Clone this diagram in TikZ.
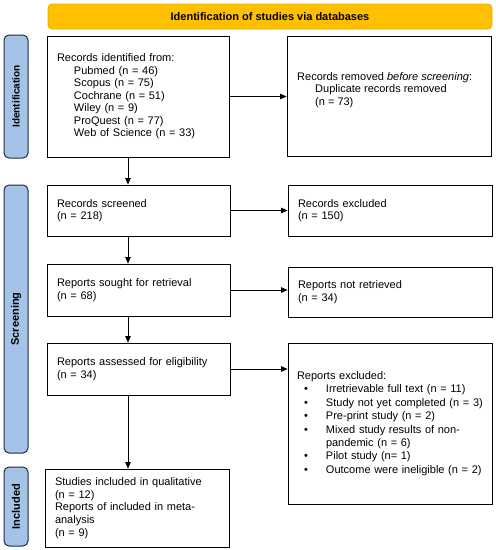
\documentclass[tikz,border=0pt]{standalone}
\usepackage{fontspec}
\setmainfont{Liberation Sans}
\usetikzlibrary{arrows.meta,calc}
\definecolor{gold}{HTML}{FFC000}
\definecolor{goldline}{HTML}{E9AE00}
\definecolor{sideblue}{HTML}{A4C3E6}
\definecolor{sideline}{HTML}{1F2A44}
\tikzset{
  box/.style={draw=black, line width=0.8pt, inner xsep=10pt, inner ysep=0pt, align=left,
    font=\fontsize{11}{12.5}\selectfont},
  txt/.style={inner sep=0pt, align=left, font=\fontsize{11}{12.5}\selectfont},
  side/.style={draw=sideline, fill=sideblue, line width=1pt, rounded corners=5pt, rotate=90,
    minimum height=24pt, inner sep=0pt, font=\bfseries\fontsize{11}{12}\selectfont},
  banner/.style={draw=goldline, fill=gold, line width=0.8pt, rounded corners=4pt,
    font=\bfseries\fontsize{11}{12}\selectfont, minimum width=444pt, minimum height=25pt},
  arr/.style={line width=0.8pt, -{Triangle[length=6.5pt,width=5.5pt]}}
}
\newcommand{\ind}{\hspace*{17pt}}
\newcommand{\bul}{\makebox[29pt][l]{\hspace{7pt}•}}
\begin{document}
\begin{tikzpicture}[x=1pt,y=-1pt]
\useasboundingbox (0,0) rectangle (496,550);
% banner
\node[banner] (banner) at (270,16.5) {Identification of studies via databases};
% side labels
\node[side, minimum width=123pt, font=\bfseries\fontsize{10}{12}\selectfont] (sid) at (16,96.5) {Identification};
\node[side, minimum width=268pt] (sscr) at (16,319) {Screening};
\node[side, minimum width=79pt] (sinc) at (16,506.5) {Included};
% boxes
\node[box, text width=162pt, minimum height=121pt] (id) at (138,96.5)
 {Records identified from:\\
  \ind Pubmed (n = 46)\\
  \ind Scopus (n = 75)\\
  \ind Cochrane (n = 51)\\
  \ind Wiley (n = 9)\\
  \ind ProQuest (n = 77)\\
  \ind Web of Science (n = 33)};
\node[box, text width=184pt, minimum height=120pt] (dup) at (389,96) {};
\node[txt, anchor=west] (duptxt) at (297,90)
 {Records removed \textit{before screening}:\\
  \hspace*{18pt}Duplicate records removed\\
  \hspace*{18pt}(n = 73)};
\node[box, text width=163pt, minimum height=51pt] (scr) at (138.5,210.5)
 {Records screened\\(n = 218)};
\node[box, text width=184pt, minimum height=51pt] (exc) at (390,210.5)
 {Records excluded\\(n = 150)};
\node[box, text width=163pt, minimum height=52pt] (sought) at (138.5,290)
 {Reports sought for retrieval\\(n = 68)};
\node[box, text width=184pt, minimum height=50pt] (notret) at (390,292)
 {Reports not retrieved\\(n = 34)};
\node[box, text width=163pt, minimum height=52pt] (assess) at (138.5,369)
 {Reports assessed for eligibility\\(n = 34)};
\node[box, inner xsep=9pt, text width=186pt, minimum height=161pt, font=\fontsize{11}{13.4}\selectfont] (rexc) at (390,423.5)
 {Reports excluded:\\
  \mbox{\bul Irretrievable full text (n = 11)}\\
  \mbox{\bul Study not yet completed (n = 3)}\\
  \mbox{\bul Pre-print study (n = 2)}\\
  \mbox{\bul Mixed study results of non-}\\
  \mbox{\hspace*{29pt}pandemic (n = 6)}\\
  \mbox{\bul Pilot study (n= 1)}\\
  \mbox{\bul Outcome were ineligible (n = 2)}};
\node[box, text width=164pt, minimum height=78pt, font=\fontsize{11}{12.7}\selectfont] (incl) at (137,508)
 {Studies included in qualitative\\
  (n = 12)\\
  Reports of included in meta-\\
  analysis\\
  (n = 9)};
% connectors
\coordinate (col) at (128,0);
\draw[arr] (id.east) -- (id.east -| dup.west);
\draw[arr] (scr.east) -- (scr.east -| exc.west);
\draw[arr] (sought.east) -- (sought.east -| notret.west);
\draw[arr] (assess.east) -- (assess.east -| rexc.west);
\draw[arr] (id.south -| col) -- (scr.north -| col);
\draw[arr] (scr.south -| col) -- (sought.north -| col);
\draw[arr] (sought.south -| col) -- (assess.north -| col);
\draw[arr] (assess.south -| col) -- (incl.north -| col);
\end{tikzpicture}
\end{document}
